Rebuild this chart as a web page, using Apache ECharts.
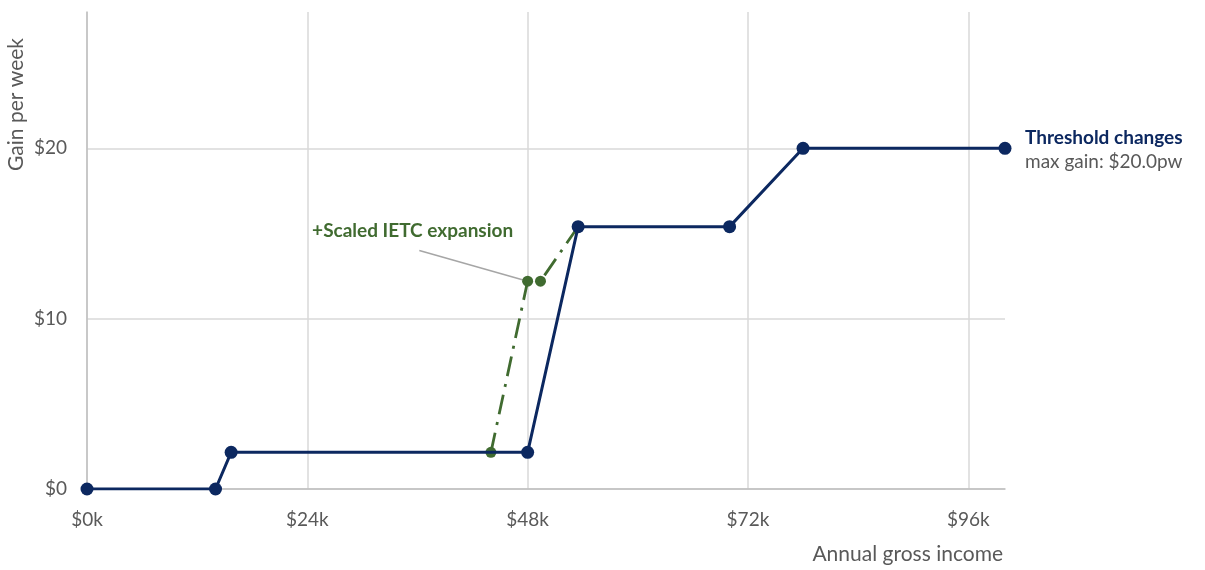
<!DOCTYPE html>
<html><head><meta charset="utf-8">
<script src="https://cdn.jsdelivr.net/npm/echarts@6/dist/echarts.min.js"></script>
<style>html,body{margin:0;padding:0;background:#fff}#c{width:1205px;height:570px}</style>
</head><body><div id="c"></div>
<script>
const incomeK = [0, 14, 15.7, 48, 53.5, 70, 78, 100];
const gainBase = [0, 0, 2.15, 2.15, 15.4, 15.4, 20.0, 20.0];
const ietcIncomeK = [44, 48, 49.4, 53.5];
const ietcGain = [2.15, 12.2, 12.2, 15.4];
const xTicks = [0, 24, 48, 72, 96];
const yTicks = [0, 10, 20];
const seriesNames = ['Threshold changes', '+Scaled IETC expansion'];
const maxGainLabel = 'max gain: $20.0pw';
const leaderFrom = [36.2, 14.0];

const FONT = 'Lato, "Open Sans", sans-serif';
const NAVY = '#0c2860';
const GREEN = '#406b30';
const GREY = '#595959';

const chart = echarts.init(document.getElementById('c'), null, {renderer:'canvas'});
chart.setOption({
  animation:false,
  textStyle:{fontFamily:FONT},
  grid:{left:87, right:200, top:12, bottom:81, containLabel:false},
  xAxis:{
    type:'value', min:0, max:100, interval:24,
    axisLine:{show:true, lineStyle:{color:'#bfbfbf', width:1.5}},
    axisTick:{show:false},
    splitLine:{show:true, showMaxLine:false, lineStyle:{color:'#d9d9d9', width:1.5}},
    axisLabel:{color:GREY, fontSize:19, fontFamily:FONT, margin:21, showMaxLabel:false,
      formatter:v => xTicks.includes(v) ? '$'+v+'k' : ''},
    name:'Annual gross income', nameLocation:'end', nameGap:-2,
    nameTextStyle:{color:GREY, fontSize:21, fontFamily:FONT, align:'right', verticalAlign:'top', padding:[55,0,0,0]}
  },
  yAxis:{
    type:'value', min:0, max:28, interval:10,
    axisLine:{show:true, lineStyle:{color:'#bfbfbf', width:1.5}},
    axisTick:{show:false},
    splitLine:{show:true, showMaxLine:false, lineStyle:{color:'#d9d9d9', width:1.5}},
    axisLabel:{color:GREY, fontSize:19, fontFamily:FONT, margin:20, showMaxLabel:false,
      formatter:v => yTicks.includes(v) ? '$'+v : ''}
  },
  graphic:[{
    type:'text', left:6, top:38, rotation:Math.PI/2,
    style:{text:'Gain per week', fill:GREY, fontSize:21, fontFamily:FONT}
  }],
  series:[
    {
      name:seriesNames[1], type:'line', z:2,
      data: ietcIncomeK.map((x,i)=>{
        const d = {value:[x, ietcGain[i]]};
        if(i===3) d.symbolSize = 0;
        if(i===1) d.label = {show:true, formatter:seriesNames[1], position:'top',
          color:GREEN, fontWeight:'bold', fontSize:19, fontFamily:FONT};
        return d;
      }),
      symbol:'circle', symbolSize:11,
      itemStyle:{color:GREEN},
      lineStyle:{color:GREEN, width:2.8, type:[20,8,3,8]},
      labelLayout: p => p.dataIndex===1 ? {dx:-115, dy:-30} : {},
      markLine:{
        silent:true, symbol:'none', z:1,
        label:{show:false},
        lineStyle:{color:'#a6a6a6', width:1.5, type:'solid'},
        data:[[{coord:leaderFrom}, {coord:[ietcIncomeK[1], ietcGain[1]]}]]
      }
    },
    {
      name:seriesNames[0], type:'line', z:3,
      data: incomeK.map((x,i)=>[x, gainBase[i]]),
      symbol:'circle', symbolSize:13,
      itemStyle:{color:NAVY},
      lineStyle:{color:NAVY, width:3},
      endLabel:{show:true, distance:20, fontFamily:FONT, padding:[4,0,0,0],
        formatter:()=>'{a|'+seriesNames[0]+'}\n{b|'+maxGainLabel+'}',
        rich:{
          a:{color:NAVY, fontWeight:'bold', fontSize:19, fontFamily:FONT, lineHeight:24, align:'left'},
          b:{color:GREY, fontSize:19, fontFamily:FONT, lineHeight:24, align:'left'}
        }
      }
    }
  ]
});
</script></body></html>
